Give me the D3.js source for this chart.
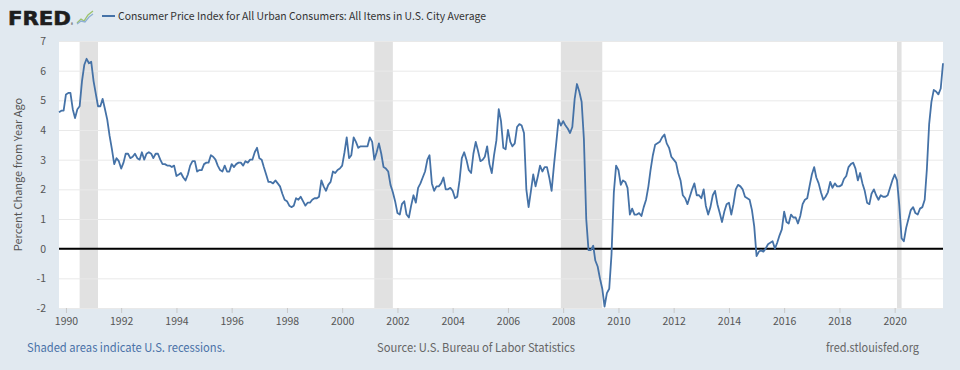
<!DOCTYPE html>
<html>
<head>
<meta charset="utf-8">
<script src="https://cdn.jsdelivr.net/npm/d3@7"></script>
<style>
  body { margin: 0; background: #e1e9f0; }
  svg { display: block; font-family: "Noto Sans CJK KR", "Open Sans", sans-serif; }
</style>
</head>
<body>
<svg id="chart"></svg>
<script>
// monthly CPI, percent change from year ago, starting Oct 1989
const startMonth = '1989-10-01';
const cpiYoY = [
  4.6, 4.65, 4.65,                                                   // 1989 Oct-Dec
  5.2, 5.25, 5.25, 4.7, 4.4, 4.7, 4.8, 5.65, 6.2, 6.4, 6.25, 6.3,      // 1990
  5.65, 5.2, 4.8, 4.8, 5.05, 4.7, 4.35, 3.8, 3.35, 2.85, 3.05, 2.95,   // 1991
  2.7, 2.9, 3.2, 3.2, 3.05, 3.1, 3.2, 3.05, 3.0, 3.25, 3.0, 3.2,       // 1992
  3.25, 3.2, 3.05, 3.2, 3.2, 3.0, 2.85, 2.85, 2.8, 2.8, 2.75, 2.8,     // 1993
  2.45, 2.5, 2.55, 2.4, 2.3, 2.5, 2.8, 2.95, 2.95, 2.6, 2.65, 2.65,    // 1994
  2.85, 2.9, 2.9, 3.15, 3.1, 3.0, 2.8, 2.65, 2.6, 2.8, 2.6, 2.6,       // 1995
  2.85, 2.75, 2.85, 2.9, 2.9, 2.8, 2.95, 2.9, 3.0, 3.0, 3.25, 3.4,     // 1996
  3.05, 3.0, 2.75, 2.5, 2.25, 2.25, 2.2, 2.3, 2.2, 2.1, 1.85, 1.65,    // 1997
  1.6, 1.45, 1.4, 1.45, 1.7, 1.65, 1.75, 1.6, 1.45, 1.55, 1.55, 1.65,  // 1998
  1.7, 1.7, 1.75, 2.3, 2.1, 1.95, 2.15, 2.25, 2.6, 2.55, 2.65, 2.7,    // 1999
  2.8, 3.25, 3.75, 3.05, 3.15, 3.75, 3.6, 3.4, 3.45, 3.45, 3.45, 3.45, // 2000
  3.75, 3.6, 3.0, 3.25, 3.55, 3.2, 2.75, 2.7, 2.6, 2.15, 1.9, 1.6,     // 2001
  1.2, 1.15, 1.5, 1.6, 1.15, 1.05, 1.45, 1.8, 1.55, 2.05, 2.2, 2.4,    // 2002
  2.6, 3.0, 3.15, 2.2, 1.95, 2.1, 2.1, 2.2, 2.4, 2.0, 2.0, 2.05,       // 2003
  1.95, 1.7, 1.75, 2.3, 3.05, 3.25, 3.0, 2.65, 2.55, 3.2, 3.6, 3.3,    // 2004
  2.95, 3.0, 3.1, 3.45, 2.85, 2.55, 3.15, 3.65, 4.7, 4.3, 3.4, 3.35,   // 2005
  4.0, 3.6, 3.45, 3.55, 4.1, 4.2, 4.15, 3.9, 2.0, 1.4, 1.95, 2.5,      // 2006
  2.1, 2.45, 2.8, 2.6, 2.75, 2.75, 2.4, 1.95, 2.8, 3.55, 4.35, 4.15,   // 2007
  4.3, 4.15, 4.05, 3.9, 4.1, 5.05, 5.55, 5.3, 4.95, 3.7, 1.0, -0.05,   // 2008
  -0.05, 0.1, -0.4, -0.6, -1.0, -1.35, -1.95, -1.5, -1.35, -0.2, 1.9, 2.8, // 2009
  2.65, 2.15, 2.3, 2.25, 2.05, 1.15, 1.35, 1.15, 1.15, 1.2, 1.1, 1.4,  // 2010
  1.65, 2.1, 2.65, 3.15, 3.5, 3.55, 3.6, 3.75, 3.85, 3.55, 3.4, 3.1,   // 2011
  3.0, 2.9, 2.55, 2.3, 1.8, 1.7, 1.5, 1.75, 2.0, 2.2, 1.8, 1.8,        // 2012
  1.7, 2.0, 1.45, 1.15, 1.4, 1.8, 1.95, 1.5, 1.2, 0.9, 1.25, 1.5,      // 2013
  1.55, 1.15, 1.5, 2.0, 2.15, 2.1, 2.0, 1.75, 1.7, 1.65, 1.3, 0.75,    // 2014
  -0.25, -0.1, -0.05, -0.1, 0.0, 0.15, 0.2, 0.25, 0.0, 0.2, 0.45, 0.65, // 2015
  1.25, 0.9, 0.85, 1.15, 1.05, 1.05, 0.85, 1.1, 1.5, 1.65, 1.7, 2.1,   // 2016
  2.5, 2.75, 2.4, 2.2, 1.9, 1.65, 1.75, 1.9, 2.25, 2.05, 2.2, 2.1,     // 2017
  2.1, 2.15, 2.35, 2.45, 2.75, 2.85, 2.9, 2.7, 2.3, 2.55, 2.2, 1.95,   // 2018
  1.55, 1.5, 1.85, 2.0, 1.8, 1.65, 1.8, 1.75, 1.75, 1.8, 2.05, 2.3,    // 2019
  2.5, 2.3, 1.5, 0.35, 0.25, 0.7, 1.0, 1.3, 1.4, 1.2, 1.15, 1.35,      // 2020
  1.4, 1.65, 2.65, 4.2, 4.95, 5.35, 5.3, 5.2, 5.4, 6.25                // 2021 Jan-Oct
];

const recessions = [
  ['1990-07-01', '1991-03-01'],
  ['2001-03-01', '2001-11-01'],
  ['2007-12-01', '2009-06-01'],
  ['2020-02-01', '2020-04-01']
];

const yTicks = [-2, -1, 0, 1, 2, 3, 4, 5, 6, 7];
const xTickYears = [1990, 1992, 1994, 1996, 1998, 2000, 2002, 2004, 2006, 2008, 2010, 2012, 2014, 2016, 2018, 2020];

const seriesTitle = 'Consumer Price Index for All Urban Consumers: All Items in U.S. City Average';
const yTitle = 'Percent Change from Year Ago';
const noteText = 'Shaded areas indicate U.S. recessions.';
const sourceText = 'Source: U.S. Bureau of Labor Statistics';
const siteText = 'fred.stlouisfed.org';

const W = 960, H = 370;
const margin = { top: 41, right: 17, bottom: 62, left: 59 };
const width = W - margin.left - margin.right;
const height = H - margin.top - margin.bottom;

const parse = d3.timeParse('%Y-%m-%d');
const t0 = parse(startMonth);
const data = cpiYoY.map((v, i) => ({ date: d3.timeMonth.offset(t0, i), value: v }));

const svg = d3.select('#chart').attr('width', W).attr('height', H);

svg.append('rect').attr('width', W).attr('height', H).attr('fill', '#e1e9f0');

// header: logo + legend
const logo = svg.append('g');
logo.append('text')
  .attr('x', 8).attr('y', 25)
  .attr('font-family', '"DejaVu Sans", sans-serif')
  .attr('font-weight', 'bold')
  .attr('font-size', 20)
  .attr('textLength', 63)
  .attr('lengthAdjust', 'spacingAndGlyphs')
  .attr('fill', '#1e1e1e')
  .attr('stroke', '#1e1e1e')
  .attr('stroke-width', 0.6)
  .text('FRED');
logo.append('text')
  .attr('x', 71).attr('y', 25.5)
  .attr('font-size', 4).attr('fill', '#222')
  .text('®');
logo.append('polyline')
  .attr('points', '77,23 81,19 84,21 88,15 93,11')
  .attr('fill', 'none').attr('stroke', '#9cc26b').attr('stroke-width', 1.3);
logo.append('polyline')
  .attr('points', '77,24 81,21 85,22 89,17 93,14')
  .attr('fill', 'none').attr('stroke', '#8fb0d3').attr('stroke-width', 1.3);

svg.append('line')
  .attr('x1', 102).attr('x2', 115).attr('y1', 16).attr('y2', 16)
  .attr('stroke', '#4572a7').attr('stroke-width', 2);
svg.append('text')
  .attr('x', 118).attr('y', 20)
  .attr('font-size', 11)
  .attr('fill', '#333')
  .attr('textLength', 368)
  .attr('lengthAdjust', 'spacingAndGlyphs')
  .text(seriesTitle);

const chart = svg.append('g').attr('transform', `translate(${margin.left},${margin.top})`);

const x = d3.scaleTime()
  .domain(d3.extent(data, d => d.date))
  .range([0, width]);
const y = d3.scaleLinear().domain([-2, 7]).range([height, 0]);

chart.append('rect').attr('width', width).attr('height', height).attr('fill', '#fff');

// recession bars
chart.selectAll('.recession')
  .data(recessions)
  .join('rect')
  .attr('class', 'recession')
  .attr('x', d => x(parse(d[0])))
  .attr('width', d => x(parse(d[1])) - x(parse(d[0])))
  .attr('y', 0)
  .attr('height', height)
  .attr('fill', '#e1e1e1');

// horizontal grid + y labels
const yAxisG = chart.append('g')
  .call(d3.axisLeft(y).tickValues(yTicks).tickSize(-width).tickPadding(13).tickFormat(d => String(d)));
yAxisG.select('.domain').remove();
yAxisG.selectAll('.tick line').attr('stroke', '#e9e9e9').attr('stroke-width', 1);
yAxisG.selectAll('.tick text')
  .attr('fill', '#555')
  .attr('font-size', 10.5)
  .attr('font-family', '"Noto Sans CJK KR", sans-serif');

// zero line
chart.append('line')
  .attr('x1', 0).attr('x2', width)
  .attr('y1', y(0)).attr('y2', y(0))
  .attr('stroke', '#000').attr('stroke-width', 2);

// x axis
const xAxisG = chart.append('g')
  .attr('transform', `translate(0,${height})`)
  .call(d3.axisBottom(x)
    .tickValues(xTickYears.map(yr => new Date(yr, 0, 1)))
    .tickSize(5)
    .tickPadding(5)
    .tickFormat(d3.timeFormat('%Y')));
xAxisG.select('.domain').remove();
xAxisG.selectAll('.tick line').attr('stroke', '#c8c8c8');
xAxisG.selectAll('.tick text')
  .attr('fill', '#555')
  .attr('font-size', 10.5)
  .attr('font-family', '"Noto Sans CJK KR", sans-serif');

// series
const line = d3.line()
  .x(d => x(d.date))
  .y(d => y(d.value));
chart.append('path')
  .datum(data)
  .attr('fill', 'none')
  .attr('stroke', '#4572a7')
  .attr('stroke-width', 1.8)
  .attr('stroke-linejoin', 'round')
  .attr('d', line);

// y title
svg.append('text')
  .attr('transform', `translate(22,${margin.top + height / 2}) rotate(-90)`)
  .attr('text-anchor', 'middle')
  .attr('font-size', 11)
  .attr('fill', '#555')
  .text(yTitle);

// footer
svg.append('text')
  .attr('x', 27).attr('y', 352)
  .attr('font-size', 12)
  .attr('fill', '#4a72a8')
  .attr('textLength', 198)
  .attr('lengthAdjust', 'spacingAndGlyphs')
  .text(noteText);
svg.append('text')
  .attr('x', 377).attr('y', 352)
  .attr('font-size', 12)
  .attr('fill', '#666')
  .attr('textLength', 198)
  .attr('lengthAdjust', 'spacingAndGlyphs')
  .text(sourceText);
svg.append('text')
  .attr('x', 826).attr('y', 352)
  .attr('font-size', 12)
  .attr('fill', '#666')
  .attr('textLength', 93)
  .attr('lengthAdjust', 'spacingAndGlyphs')
  .text(siteText);
</script>
</body>
</html>
